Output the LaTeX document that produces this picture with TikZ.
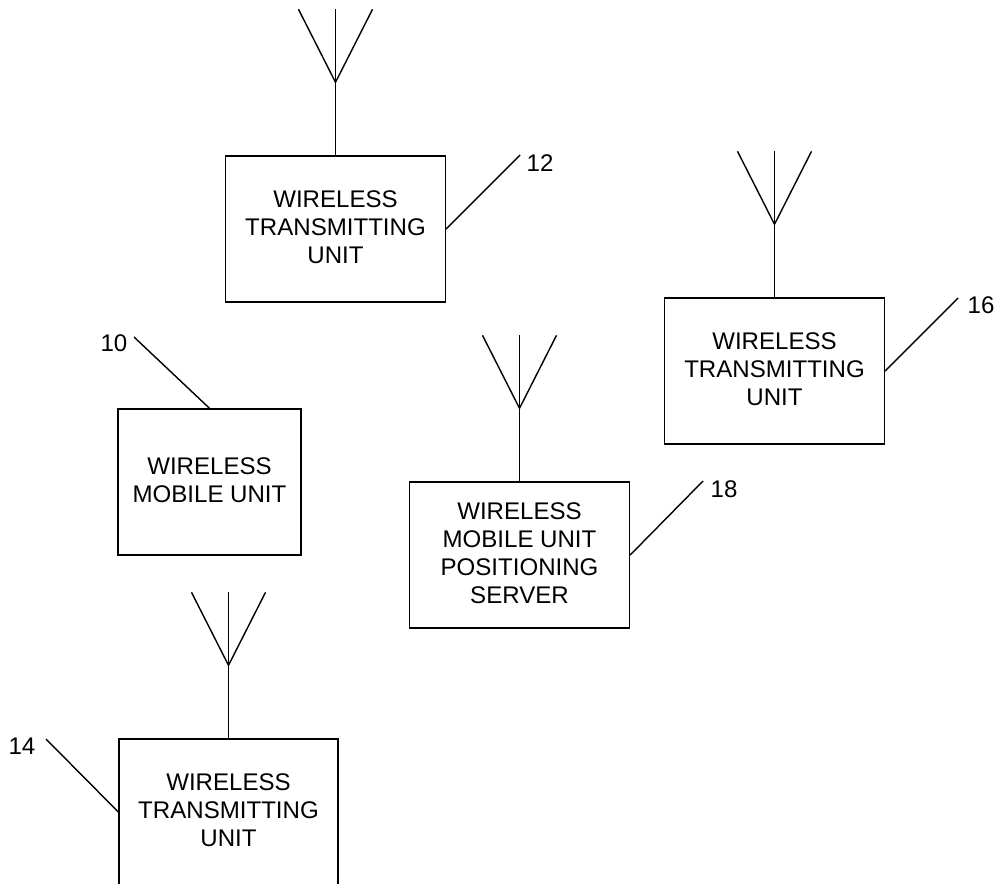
\documentclass[tikz,border=0pt]{standalone}
\usepackage{fontspec}
\setmainfont{Liberation Sans}
\tikzset{
  unitbox/.style={draw, line width=0.8pt, minimum width=4.4cm, minimum height=2.92cm, align=center, inner sep=0pt,
                  text depth=2.4pt, font=\fontsize{13.7}{15.9}\selectfont},
  tagtext/.style={inner sep=0pt, font=\fontsize{13.7}{15.9}\selectfont},
  wire/.style={line width=0.8pt},
}
\begin{document}
\begin{tikzpicture}[x=0.02cm, y=-0.02cm]
      \clip (0, 0) rectangle (1003, 883);
      % boxes
      \node[unitbox] (txa) at (335.5, 229) {WIRELESS\\TRANSMITTING\\UNIT};
      \node[unitbox] (txb) at (774.5, 371) {WIRELESS\\TRANSMITTING\\UNIT};
      \node[unitbox, minimum width=3.66cm] (mobile) at (209.5, 482) {WIRELESS\\MOBILE UNIT};
      \node[unitbox] (server) at (519.5, 555) {WIRELESS\\MOBILE UNIT\\POSITIONING\\SERVER};
      \node[unitbox, minimum width=4.38cm] (txc) at (228.5, 812) {WIRELESS\\TRANSMITTING\\UNIT};
      % antennas
      \foreach \unit in {txa, txb, server, txc} {
        \draw[wire] (\unit.north) -- ++(0, -73) coordinate (\unit fork);
        \draw[wire] (\unit fork) -- ++(0, -73);
        \draw[wire] (\unit fork) -- ++(-37, -73);
        \draw[wire] (\unit fork) -- ++(37, -73);
      }
      % reference numerals
      \node[tagtext] (tagtxa) at (540, 163) {12};
      \node[tagtext] (tagtxb) at (981, 305) {16};
      \node[tagtext] (tagmobile) at (114, 343) {10};
      \node[tagtext] (tagserver) at (724, 489) {18};
      \node[tagtext] (tagtxc) at (22, 746) {14};
      \coordinate (endtxa) at (520, 155);
      \coordinate (endtxb) at (958, 298);
      \coordinate (endmobile) at (134, 337);
      \coordinate (endserver) at (703, 481);
      \coordinate (endtxc) at (46, 739);
      \draw[wire] (txa.east) -- (endtxa);
      \draw[wire] (txb.east) -- (endtxb);
      \draw[wire] (mobile.north) -- (endmobile);
      \draw[wire] (server.east) -- (endserver);
      \draw[wire] (txc.west) -- (endtxc);
    \end{tikzpicture}
\end{document}
